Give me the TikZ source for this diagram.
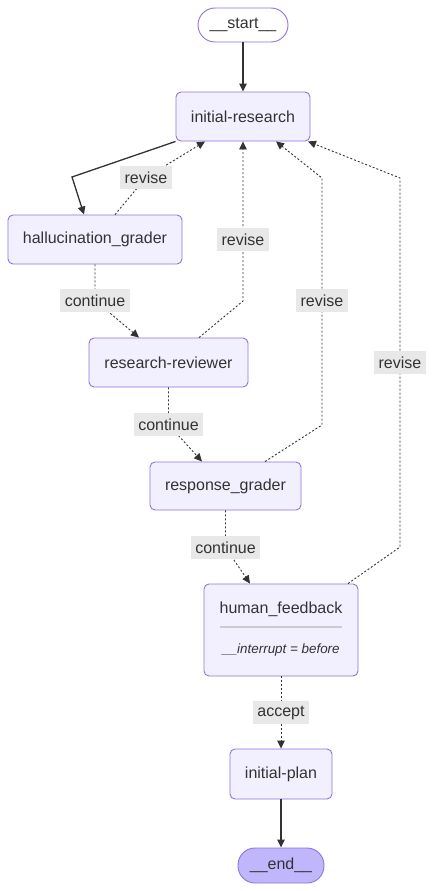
\documentclass[tikz,border=0pt]{standalone}
\usepackage{fontspec}
\setmainfont{Liberation Sans}
\usetikzlibrary{arrows.meta,calc}
\definecolor{nodefill}{HTML}{F2F0FF}
\definecolor{nodeline}{HTML}{9370DB}
\definecolor{endfill}{HTML}{BFB6FC}
\definecolor{txt}{HTML}{333333}
\definecolor{lblfill}{HTML}{E8E8E8}
\definecolor{sepline}{HTML}{CCCCCC}
\tikzset{
  gnode/.style={draw=nodeline, fill=nodefill, line width=0.9pt, rounded corners=5pt,
    inner sep=0pt, text=txt, font=\fontsize{16}{19}\selectfont, align=center},
  pill/.style={gnode, rounded corners=17pt},
  lbl/.style={fill=lblfill, text=txt, font=\fontsize{16}{19}\selectfont, inner xsep=4.5pt,
    inner ysep=0pt, minimum height=23pt},
  solidarrow/.style={draw=txt, line width=1.3pt, -{Triangle[length=8pt,width=7.5pt]}},
  dotarrow/.style={draw=txt, line width=0.9pt, dash pattern=on 2pt off 2pt,
    -{Triangle[length=8pt,width=7.5pt]}},
}
\begin{document}
\begin{tikzpicture}[x=1pt,y=-1pt]
\useasboundingbox (0,0) rectangle (435,891);
% nodes
\node[pill, fill=white, minimum width=90pt, minimum height=34pt] (start) at (243,25) {\_\_start\_\_};
\node[gnode, minimum width=134pt, minimum height=49pt] (ir) at (243,116.5) {initial-research};
\node[gnode, minimum width=174pt, minimum height=49pt] (hg) at (95,239.5) {hallucination\_grader};
\node[gnode, minimum width=159pt, minimum height=49pt] (rr) at (168.5,362.5) {research-reviewer};
\node[gnode, minimum width=151pt, minimum height=48pt] (rg) at (225.5,486) {response\_grader};
\node[gnode, minimum width=154pt, minimum height=92pt] (hf) at (281,630) {};
\node[text=txt, font=\fontsize{16}{19}\selectfont] (hft) at (281,609) {human\_feedback};
\node[text=txt, font=\fontsize{13.4}{16}\selectfont\itshape] (hfi) at (281,650) {\_\_interrupt = before};
\coordinate (sepl) at (220,627);
\coordinate (sepr) at (342,627);
\draw[sepline, line width=1.5pt] (sepl) -- (sepr);
\node[gnode, minimum width=102pt, minimum height=50pt] (ip) at (281,774) {initial-plan};
\node[pill, fill=endfill, minimum width=86pt, minimum height=35pt] (end) at (281,865.5) {\_\_end\_\_};

% label positions and bends
\coordinate (l3) at (146,177.5);
\coordinate (l4) at (95,300.5);
\coordinate (l5) at (243,239.5);
\coordinate (b5) at (243,301);
\coordinate (l6) at (168.5,424.5);
\coordinate (l7) at (322,300.5);
\coordinate (b7a) at (322,425);
\coordinate (b7b) at (322,178);
\coordinate (l8) at (225.5,547.5);
\coordinate (l9) at (400,362.5);
\coordinate (b9a) at (400,547);
\coordinate (b9b) at (400,178);
\coordinate (l10) at (281,712.5);
\coordinate (b2) at (72,177);

% edges
\draw[solidarrow] (start) -- (ir);
\draw[solidarrow] (ir.south west) -- (b2) -- ([xshift=-11pt]hg.north);
\draw[dotarrow] ([xshift=20pt]hg.north) -- (l3) -- ([xshift=-38pt]ir.south);
\draw[dotarrow] (hg.south) -- (l4) -- ([xshift=-29.5pt]rr.north);
\draw[dotarrow] ([xshift=30.5pt]rr.north) -- (b5) -- (l5) -- (ir.south);
\draw[dotarrow] (rr.south) -- (l6) -- ([xshift=-23.5pt]rg.north);
\draw[dotarrow] ([xshift=39.5pt]rg.north) -- (b7a) -- (l7) -- (b7b) -- ([xshift=33pt]ir.south);
\draw[dotarrow] (rg.south) -- (l8) -- ([xshift=-31pt]hf.north);
\draw[dotarrow] ([xshift=67pt]hf.north) -- (b9a) -- (l9) -- (b9b) -- ([xshift=65pt]ir.south);
\draw[dotarrow] (hf.south) -- (l10) -- (ip.north);
\draw[solidarrow] (ip.south) -- (end.north);

% labels
\node[lbl] (t3) at (l3) {revise};
\node[lbl] (t4) at (l4) {continue};
\node[lbl] (t5) at (l5) {revise};
\node[lbl] (t6) at (l6) {continue};
\node[lbl] (t7) at (l7) {revise};
\node[lbl] (t8) at (l8) {continue};
\node[lbl] (t9) at (l9) {revise};
\node[lbl] (t10) at (l10) {accept};
\end{tikzpicture}
\end{document}
